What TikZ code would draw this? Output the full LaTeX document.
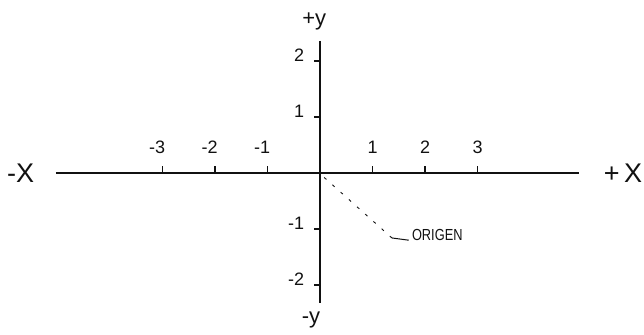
\documentclass[tikz,border=0pt]{standalone}
\usepackage{fontspec}
\setmainfont{Liberation Sans}
\usepackage{tikz}
\usetikzlibrary{
  arrows.meta,
  positioning,
  calc
}
\definecolor{axInk}{HTML}{111111}
\tikzset{
  axisline/.style={line width=2.4pt, axInk},
  tickline/.style={line width=1.3pt, axInk},
  ticklbl/.style={font=\fontsize{18}{18}\selectfont, text=axInk, inner sep=1pt},
  endlbl/.style={font=\fontsize{27}{27}\selectfont, text=axInk, inner sep=1pt},
  ylbl/.style={font=\fontsize{22}{22}\selectfont, text=axInk, inner sep=1pt},
  notelbl/.style={font=\addfontfeature{FakeStretch=0.8}\fontsize{16}{16}\selectfont, text=axInk, inner sep=1pt, anchor=base west},
  leader/.style={line width=0.9pt, axInk, dash pattern=on 3pt off 8pt},
  leaderend/.style={line width=1pt, axInk}
}

\begin{document}
\begin{tikzpicture}[x=52.5pt, y=56pt]
  \useasboundingbox (-6.095,-2.875) rectangle (6.171,3.089);
  % axes
  \coordinate (o) at (0,0);
  \coordinate (xl) at (-5.03,0);
  \coordinate (xr) at (4.93,0);
  \coordinate (yt) at (0,2.36);
  \coordinate (yb) at (0,-2.32);
  \draw[axisline] (xl) -- (xr);
  \draw[axisline] (yt) -- (yb);
  \node[endlbl] (mx) at (-5.70,0) {-X};
  \node[endlbl] (px) at (5.77,0) {+\,X};
  \node[ylbl] (py) at (-0.11,2.70) {+y};
  \node[ylbl] (my) at (-0.17,-2.62) {-y};
  % ticks on x
  \foreach \i in {-3,-2,-1,1,2,3}{
    \coordinate (tx\i) at (\i,0);
    \draw[tickline] (tx\i) -- ++(0,0.13);
    \node[ticklbl] (lx\i) at ({\i-0.1*(\i<0)},0.46) {\i};
  }
  % ticks on y
  \foreach \j in {-2,-1,1,2}{
    \coordinate (ty\j) at (0,\j);
    \draw[tickline] (ty\j) -- ++(-0.11,0);
    \node[ticklbl, anchor=east] (ly\j) at ({-0.28},{\j+0.1}) {\j};
  }
  % origin note
  \node[notelbl] (origen) at (1.73,-1.2) {ORIGEN};
  \coordinate (bend) at (1.37,-1.16);
  \draw[leader] ($(o)+(0.08,-0.08)$) -- (bend);
  \draw[leaderend] (bend) -- ($(origen.base west)+(-0.04,0)$);
\end{tikzpicture}
\end{document}
